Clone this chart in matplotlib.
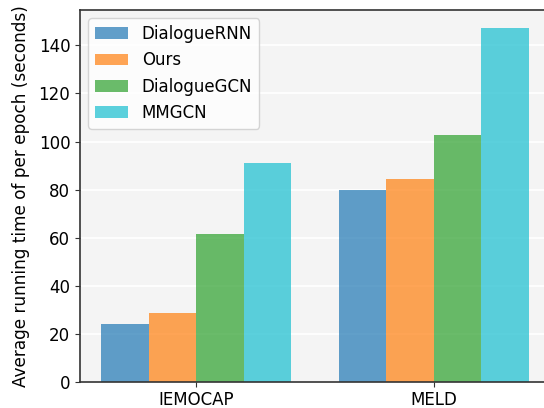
import numpy as np
import matplotlib.pyplot as plt

datasets = ["IEMOCAP", "MELD"]
methods = ["DialogueRNN", "Ours", "DialogueGCN", "MMGCN"]
dialoguernn = [24.1, 79.7]
ours = [28.6, 84.6]
dialoguegcn = [61.4, 102.9]
mmgcn = [90.9, 147.3]
colors = ["tab:blue", "tab:orange", "tab:green", "tab:cyan"]

series = [dialoguernn, ours, dialoguegcn, mmgcn]

plt.rcParams["font.size"] = 12

fig = plt.figure(figsize=(5.44, 4.08), dpi=100)
ax = fig.add_axes([80 / 544, 1 - 382 / 408, 470 / 544, 372 / 408])
ax.set_facecolor("#f4f4f4")

x = np.arange(len(datasets))
width = 0.2
for i, (name, vals) in enumerate(zip(methods, series)):
    ax.bar(x + (i - 1.5) * width, vals, width, label=name, color=colors[i], alpha=0.7)

ax.set_xticks(x)
ax.set_xticklabels(datasets)
ax.tick_params(axis="x", pad=3)
ax.set_ylabel("Average running time of per epoch (seconds)", fontsize=12.2, labelpad=6)
ax.yaxis.grid(True, color="white", linewidth=1.2)
ax.set_axisbelow(True)
ax.set_ylim(0, 154.7)
ax.set_xlim(-0.49, 1.49)

for s in ax.spines.values():
    s.set_color("#333333")
    s.set_linewidth(1.2)
ax.tick_params(colors="#333333", labelcolor="black")

ax.legend(loc="upper left")

fig.savefig("out.png", dpi=100)
